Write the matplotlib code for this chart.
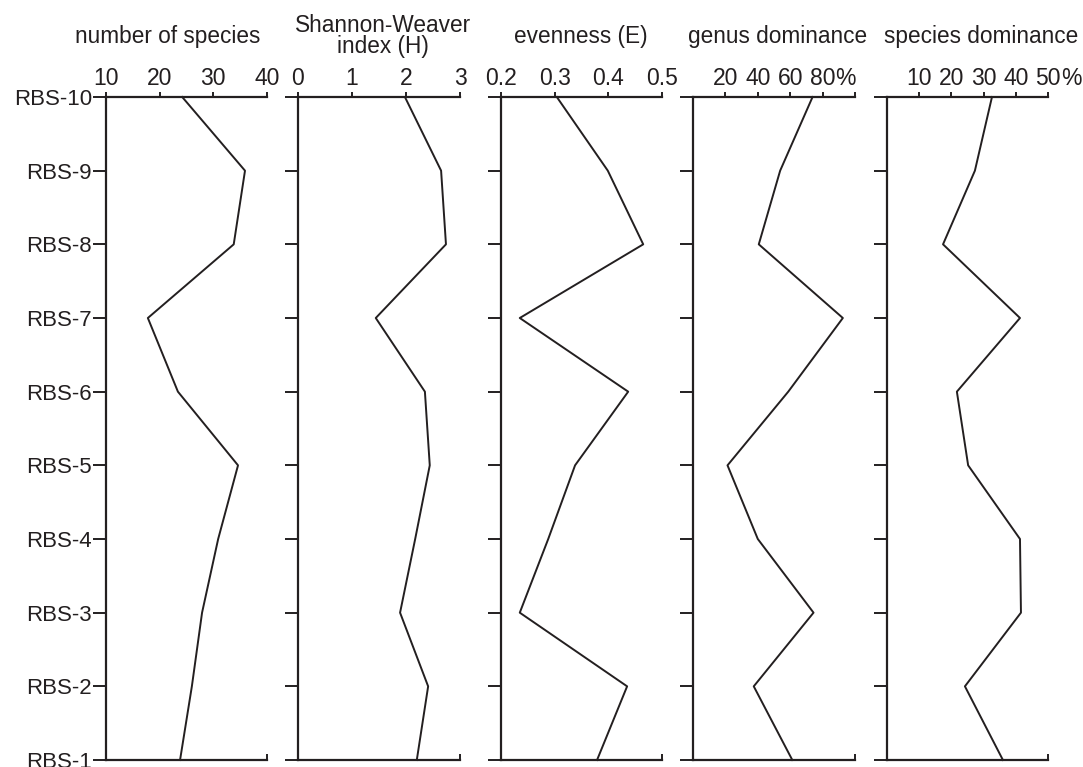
import matplotlib
matplotlib.use("Agg")
import matplotlib.pyplot as plt

plt.rcParams["font.family"] = ["Liberation Sans", "DejaVu Sans"]

samples = ["RBS-1", "RBS-2", "RBS-3", "RBS-4", "RBS-5",
           "RBS-6", "RBS-7", "RBS-8", "RBS-9", "RBS-10"]

n_species = [23.8, 26.0, 27.9, 30.9, 34.6, 23.4, 17.8, 33.8, 35.9, 24.2]
shannon   = [2.20, 2.41, 1.89, 2.17, 2.44, 2.35, 1.44, 2.74, 2.65, 1.98]
evenness  = [0.379, 0.435, 0.235, 0.288, 0.338, 0.437, 0.235, 0.465, 0.399, 0.304]
genus_dom = [61.3, 37.5, 74.4, 40.0, 21.3, 58.8, 92.5, 40.6, 53.8, 73.8]
spec_dom  = [36.0, 24.2, 41.6, 41.3, 25.2, 21.7, 41.3, 17.4, 27.3, 32.6]

panels = [
    dict(vals=n_species, xlim=(10, 40), ticks=[10, 20, 30, 40],
         labels=["10", "20", "30", "40"], title="number of species", tx=168),
    dict(vals=shannon, xlim=(0, 3), ticks=[0, 1, 2, 3],
         labels=["0", "1", "2", "3"], title="Shannon-Weaver\nindex (H)", tx=383),
    dict(vals=evenness, xlim=(0.2, 0.5), ticks=[0.2, 0.3, 0.4, 0.5],
         labels=["0.2", "0.3", "0.4", "0.5"], title="evenness (E)", tx=581),
    dict(vals=genus_dom, xlim=(0, 100), ticks=[20, 40, 60, 80, 100],
         labels=["20", "40", "60", "80", ""], title="genus dominance", tx=778,
         pct=80),
    dict(vals=spec_dom, xlim=(0, 50), ticks=[10, 20, 30, 40, 50],
         labels=["10", "20", "30", "40", "50"], title="species dominance", tx=981,
         pct=50),
]

# axes pixel extents (left, right)
x_px = [(106, 267), (298, 460), (501, 662), (693, 855), (887, 1048)]
W, H = 1083, 767
top_px, bot_px = 97, 760
ink = "#231f20"
fs_tick = 16.5
fs_title = 16.3
tick_len, tick_pad = 3.6, 1.5

fig = plt.figure(figsize=(W / 100, H / 100), dpi=100)

ypos = list(range(1, len(samples) + 1))

for i, (p, (l, r)) in enumerate(zip(panels, x_px)):
    ax = fig.add_axes([l / W, 1 - bot_px / H, (r - l) / W, (bot_px - top_px) / H])
    ax.plot(p["vals"], ypos, color=ink, lw=1.4, clip_on=False, zorder=3)
    ax.set_xlim(*p["xlim"])
    ax.set_ylim(1, 10)
    ax.spines["right"].set_visible(False)
    for s in ["left", "top", "bottom"]:
        ax.spines[s].set_linewidth(1.6)
        ax.spines[s].set_color(ink)

    ax.xaxis.tick_top()
    ax.set_xticks(p["ticks"])
    ax.set_xticklabels(p["labels"])
    ax.tick_params(axis="x", direction="out", length=tick_len, width=1.4, color=ink,
                   labelsize=fs_tick, pad=tick_pad, labelcolor=ink)

    ax.set_yticks(ypos)
    if i == 0:
        ax.set_yticklabels(samples)
    else:
        ax.set_yticklabels([])
    ax.tick_params(axis="y", direction="out", length=9.5, width=1.4, color=ink,
                   labelsize=16, pad=0.5, labelcolor=ink)

    # small inward tick at the right end of the bottom line
    sec = ax.secondary_xaxis("bottom")
    sec.set_xticks([p["xlim"][1]])
    sec.set_xticklabels([""])
    sec.tick_params(direction="in", length=4, width=1.4, color=ink)
    sec.spines["bottom"].set_visible(False)

    if "pct" in p:
        ax.annotate("%", xy=(p["pct"], 1), xycoords=("data", "axes fraction"),
                    xytext=(0.556 * fs_tick, tick_len + tick_pad),
                    textcoords="offset points",
                    ha="left", va="bottom", fontsize=fs_tick, color=ink)

    fig.text(p["tx"] / W, 1 - 36 / H, p["title"], ha="center", va="center",
             fontsize=fs_title, color=ink, linespacing=0.88)

fig.savefig("out.png", dpi=100)
